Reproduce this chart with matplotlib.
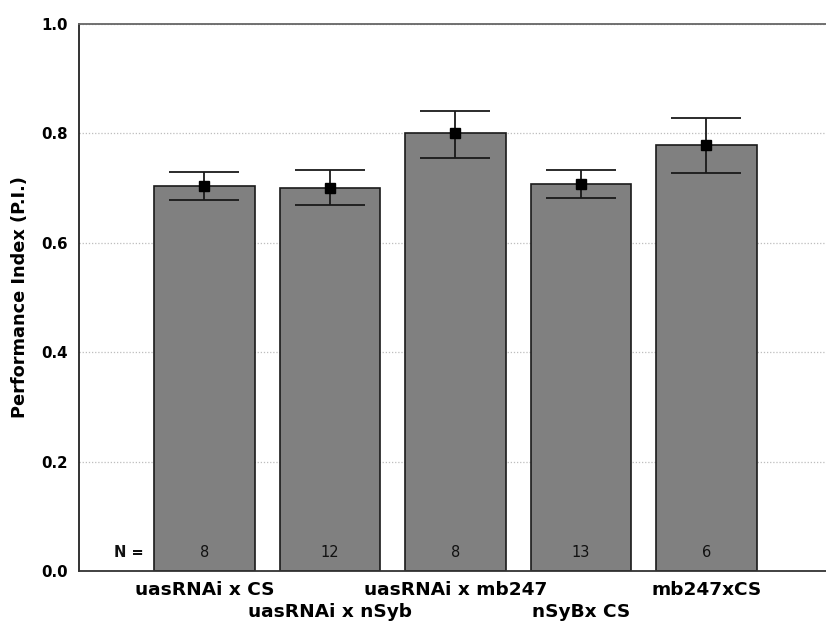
import matplotlib
matplotlib.use("Agg")
import matplotlib.pyplot as plt
import numpy as np

categories = ["uasRNAi x CS", "uasRNAi x nSyb", "uasRNAi x mb247", "nSyBx CS", "mb247xCS"]
means = [0.704, 0.701, 0.800, 0.708, 0.778]
upper = [0.730, 0.734, 0.841, 0.734, 0.829]
lower = [0.678, 0.669, 0.755, 0.682, 0.728]
n_values = [8, 12, 8, 13, 6]
yticks = [0.0, 0.2, 0.4, 0.6, 0.8, 1.0]

plt.rcParams['font.family'] = ['DejaVu Sans']

fig = plt.figure(figsize=(8.26, 6.28), dpi=100)
ax = fig.add_axes([79/826, 57/628, 753/826, 547/628])

x = np.arange(len(categories))
means_a = np.array(means)
yerr = np.vstack([means_a - np.array(lower), np.array(upper) - means_a])

ax.set_axisbelow(True)
ax.yaxis.grid(True, linestyle=(0, (1, 1.5)), color='#bdbdbd', linewidth=0.9)
ax.bar(x, means, width=0.8, color='#808080', edgecolor='#1a1a1a', linewidth=1.2, zorder=2)
ax.errorbar(x, means, yerr=yerr, fmt='s', color='black', ecolor='#1a1a1a',
            elinewidth=1.3, capsize=25, capthick=1.3, markersize=7, zorder=3)

for xi, nv in zip(x, n_values):
    ax.text(xi, 0.033, str(nv), ha='center', va='center', fontsize=10.5, color='#111111', zorder=4)
ax.text(-0.6, 0.033, "N =", ha='center', va='center', fontsize=10.5, fontweight='bold', color='#111111')

ax.set_xlim(-1, 5)
ax.set_ylim(0, 1.0)
ax.set_yticks(yticks)
ax.set_yticklabels([f"{v:.1f}" for v in yticks], fontsize=10.8, fontweight='bold')
ax.set_xticks(x)
ax.set_xticklabels(categories, fontsize=13.3, fontweight='bold')
ax.tick_params(axis='both', length=0)
ax.tick_params(axis='y', pad=8)
for i, t in enumerate(ax.xaxis.get_major_ticks()):
    t.set_pad(7 if i % 2 == 0 else 23)

ax.set_ylabel("Performance Index (P.I.)", fontsize=12.8, fontweight='bold')
ax.yaxis.set_label_coords(-0.066, 0.5)

ax.spines['right'].set_visible(False)
ax.spines['left'].set_color('#111111')
ax.spines['left'].set_linewidth(1.2)
ax.spines['bottom'].set_color('#333333')
ax.spines['bottom'].set_linewidth(1.3)
ax.spines['top'].set_color('#666666')
ax.spines['top'].set_linewidth(1.3)

fig.savefig("out.png", dpi=100)
